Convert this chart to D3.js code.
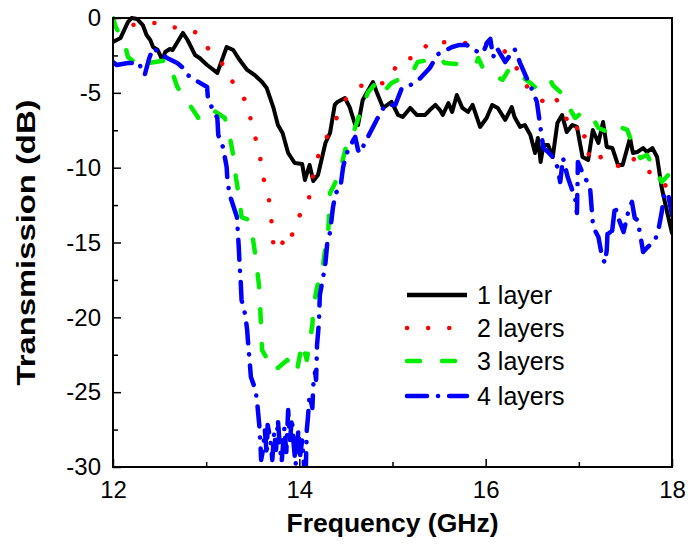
<!DOCTYPE html>
<html>
<head>
<meta charset="utf-8">
<script src="https://cdn.jsdelivr.net/npm/d3@7"></script>
<style>
  body { margin: 0; background: #fff; }
  svg text { font-family: "Liberation Sans", Arial, sans-serif; }
</style>
</head>
<body>
<svg id="chart" width="688" height="550"></svg>
<script>
// measured transmission curves, [frequency GHz, dB]
var layer1 = [[12.00,-1.60],[12.08,-1.34],[12.16,-0.27],[12.20,0],[12.26,-0.07],[12.32,-0.47],[12.36,-1.14],[12.40,-1.47],[12.43,-1.94],[12.48,-2.14],[12.53,-2.81],[12.56,-2.27],[12.61,-2.07],[12.64,-2.14],[12.75,-1.00],[12.80,-1.47],[12.88,-2.47],[12.93,-2.67],[13.01,-3.14],[13.12,-3.67],[13.22,-1.94],[13.29,-2.14],[13.36,-2.81],[13.44,-3.47],[13.52,-3.81],[13.60,-4.28],[13.65,-4.68],[13.72,-5.95],[13.77,-7.15],[13.82,-7.68],[13.88,-9.02],[13.95,-9.69],[14.03,-9.75],[14.06,-10.82],[14.11,-9.82],[14.15,-10.89],[14.20,-10.49],[14.28,-8.35],[14.33,-7.68],[14.38,-5.81],[14.41,-5.61],[14.49,-5.35],[14.54,-5.95],[14.60,-7.15],[14.63,-7.15],[14.68,-5.48],[14.79,-4.28],[14.83,-4.94],[14.90,-6.01],[14.99,-5.61],[15.06,-6.48],[15.11,-6.61],[15.19,-6.01],[15.26,-6.48],[15.35,-6.48],[15.40,-6.15],[15.46,-5.81],[15.51,-6.15],[15.54,-6.48],[15.60,-5.68],[15.64,-6.28],[15.69,-5.14],[15.75,-6.01],[15.81,-6.28],[15.86,-5.81],[15.94,-7.28],[16.01,-6.68],[16.07,-5.81],[16.13,-6.01],[16.21,-6.81],[16.28,-5.95],[16.31,-6.61],[16.37,-7.28],[16.42,-7.15],[16.48,-7.82],[16.53,-9.02],[16.56,-8.02],[16.59,-9.62],[16.62,-8.49],[16.67,-8.49],[16.72,-9.29],[16.77,-7.02],[16.82,-6.48],[16.87,-7.62],[16.93,-7.15],[16.98,-7.28],[17.04,-9.29],[17.10,-9.49],[17.15,-7.48],[17.21,-8.35],[17.26,-6.95],[17.30,-8.62],[17.36,-8.69],[17.42,-9.82],[17.47,-9.82],[17.55,-8.02],[17.58,-9.02],[17.63,-8.95],[17.69,-8.69],[17.73,-8.95],[17.79,-8.69],[17.84,-9.29],[17.89,-11.36],[17.95,-13.03],[18.00,-14.36]];

var layer2 = [[12.00,-0.40],[12.11,-0.60],[12.32,-0.33],[12.50,-0.33],[12.61,-0.60],[12.74,-0.67],[12.91,-1.00],[13.06,-2.41],[13.22,-3.34],[13.32,-4.81],[13.45,-5.68],[13.49,-7.28],[13.57,-8.82],[13.60,-10.36],[13.67,-11.96],[13.70,-13.50],[13.72,-15.03],[13.77,-15.63],[13.85,-14.63],[13.90,-14.97],[13.97,-13.43],[14.09,-12.56],[14.13,-11.02],[14.19,-9.42],[14.29,-8.02],[14.38,-6.95],[14.49,-5.48],[14.64,-4.54],[14.80,-4.48],[14.95,-4.28],[15.08,-2.74],[15.26,-2.67],[15.40,-1.54],[15.64,-1.67],[15.76,-1.67],[15.92,-1.67],[16.13,-1.80],[16.29,-2.74],[16.39,-4.21],[16.51,-5.01],[16.66,-5.81],[16.74,-5.28],[16.83,-6.08],[16.92,-7.62],[16.98,-7.35],[17.02,-8.28],[17.07,-7.82],[17.11,-9.22],[17.19,-8.75],[17.26,-9.62],[17.47,-9.96],[17.57,-9.29],[17.70,-10.22],[17.76,-10.29],[17.89,-11.09],[18.00,-11.36]];

var layer3 = [[12.00,0],[12.03,-0.60],[12.13,-1.80],[12.16,-2.61],[12.31,-3.34],[12.38,-3.01],[12.58,-2.81],[12.61,-3.14],[12.69,-4.61],[12.77,-5.35],[12.86,-6.15],[12.93,-6.81],[13.07,-6.15],[13.20,-6.68],[13.26,-8.15],[13.29,-9.15],[13.32,-10.69],[13.35,-11.83],[13.38,-13.30],[13.46,-13.50],[13.49,-14.30],[13.52,-15.50],[13.55,-16.97],[13.57,-18.04],[13.59,-20.71],[13.60,-22.18],[13.66,-22.85],[13.71,-22.65],[13.77,-23.38],[13.87,-22.85],[13.97,-23.72],[14.03,-21.71],[14.08,-22.85],[14.14,-20.51],[14.15,-19.38],[14.19,-17.97],[14.24,-17.17],[14.28,-15.30],[14.31,-14.30],[14.33,-11.69],[14.40,-10.82],[14.44,-10.16],[14.51,-8.35],[14.59,-7.48],[14.67,-6.01],[14.74,-4.94],[14.87,-4.01],[14.94,-4.68],[14.99,-4.34],[15.21,-3.67],[15.27,-2.94],[15.51,-2.67],[15.56,-3.01],[15.69,-3.07],[15.90,-3.01],[15.92,-2.67],[15.97,-3.34],[16.13,-3.94],[16.18,-4.14],[16.26,-3.34],[16.48,-4.34],[16.53,-4.61],[16.56,-4.28],[16.69,-4.08],[16.72,-4.48],[16.80,-4.94],[16.91,-6.15],[16.96,-6.68],[17.04,-6.28],[17.10,-6.55],[17.15,-6.68],[17.21,-7.35],[17.37,-7.75],[17.44,-7.28],[17.52,-7.48],[17.60,-8.82],[17.66,-9.35],[17.73,-9.15],[17.84,-10.36],[17.89,-10.96],[17.96,-10.49],[18.00,-11.49]];

var layer4 = [[12.00,-2.94],[12.04,-3.14],[12.16,-3.01],[12.20,-3.01],[12.27,-2.94],[12.34,-3.81],[12.39,-2.67],[12.43,-2.00],[12.53,-2.47],[12.58,-2.67],[12.69,-3.01],[12.74,-3.27],[12.80,-3.81],[12.90,-4.21],[13.01,-4.61],[13.02,-5.48],[13.12,-6.68],[13.13,-7.82],[13.18,-8.62],[13.22,-9.96],[13.23,-11.02],[13.26,-11.96],[13.33,-13.30],[13.34,-14.30],[13.35,-15.30],[13.36,-16.64],[13.37,-17.51],[13.38,-18.84],[13.42,-19.84],[13.44,-20.85],[13.45,-21.71],[13.47,-23.18],[13.48,-23.99],[13.53,-24.85],[13.55,-25.86],[13.57,-27.19],[13.58,-28.20],[13.59,-29.53],[13.61,-28.86],[13.63,-27.53],[13.65,-29.20],[13.66,-27.19],[13.69,-28.20],[13.71,-29.53],[13.73,-27.66],[13.75,-28.86],[13.77,-26.86],[13.79,-28.53],[13.81,-29.67],[13.84,-27.39],[13.86,-29.00],[13.88,-26.19],[13.90,-28.20],[13.92,-26.73],[13.94,-28.53],[13.96,-29.87],[13.99,-27.53],[14.01,-29.20],[14.03,-28.20],[14.05,-29.87],[14.07,-30.00],[14.08,-27.53],[14.09,-26.86],[14.11,-25.19],[14.14,-26.06],[14.15,-24.52],[14.17,-23.65],[14.18,-24.19],[14.19,-21.85],[14.21,-20.38],[14.22,-18.51],[14.25,-17.51],[14.28,-16.37],[14.30,-15.03],[14.33,-14.30],[14.36,-12.69],[14.39,-11.69],[14.44,-11.36],[14.47,-9.96],[14.51,-9.02],[14.58,-8.15],[14.60,-7.95],[14.63,-8.82],[14.65,-9.02],[14.73,-8.02],[14.83,-6.81],[14.92,-5.81],[15.03,-5.81],[15.10,-4.68],[15.22,-4.41],[15.30,-4.01],[15.40,-3.34],[15.49,-2.41],[15.64,-1.94],[15.72,-1.80],[15.80,-1.80],[15.83,-2.00],[15.92,-2.27],[15.97,-2.34],[16.02,-1.60],[16.05,-1.40],[16.08,-2.61],[16.12,-2.00],[16.21,-2.94],[16.31,-2.07],[16.37,-3.01],[16.44,-4.01],[16.50,-4.81],[16.55,-5.61],[16.58,-6.95],[16.60,-7.82],[16.62,-8.69],[16.67,-8.95],[16.72,-9.29],[16.77,-9.96],[16.80,-10.96],[16.83,-9.35],[16.88,-10.62],[16.94,-11.69],[16.96,-12.03],[16.98,-13.03],[16.99,-9.62],[17.05,-10.49],[17.12,-11.29],[17.15,-13.70],[17.17,-14.16],[17.21,-14.63],[17.25,-15.97],[17.28,-16.37],[17.30,-15.50],[17.31,-14.03],[17.35,-14.63],[17.39,-12.49],[17.41,-13.16],[17.44,-13.63],[17.48,-14.30],[17.53,-12.96],[17.57,-12.29],[17.60,-13.36],[17.63,-13.50],[17.66,-14.50],[17.69,-15.63],[17.74,-15.30],[17.82,-14.83],[17.86,-13.96],[17.89,-12.96],[17.92,-11.63],[17.96,-11.83],[18.00,-13.16]];

var seriesNames = ["1 layer", "2 layers", "3 layers", "4 layers"];
var seriesColors = ["#000000", "#ff0000", "#00ee00", "#0000ff"];
var seriesDash = [null, "0.1 21", "13 22", "20 11 0.1 11"];
var xMajor = [12, 14, 16, 18];
var xMinor = [13, 15, 17];
var yMajor = [0, -5, -10, -15, -20, -25, -30];
var yMinor = [-2.5, -7.5, -12.5, -17.5, -22.5, -27.5];

var dimensions = {
    width: 688,
    height: 550,
    margin: { top: 18, bottom: 83, right: 16, left: 113 }
}

var svg = d3.select("#chart")

var xScale = d3.scaleLinear()
               .domain([12, 18])
               .range([dimensions.margin.left, dimensions.width - dimensions.margin.right])

var yScale = d3.scaleLinear()
               .domain([-30, 0])
               .range([dimensions.height - dimensions.margin.bottom, dimensions.margin.top])

svg.append("clipPath").attr("id", "plotclip")
   .append("rect")
   .attr("x", xScale(12)).attr("y", yScale(0) - 2)
   .attr("width", xScale(18) - xScale(12)).attr("height", yScale(-30) - yScale(0) + 2)

var line = d3.line()
             .x(function(d){ return xScale(d[0]) })
             .y(function(d){ return yScale(d[1]) })

var allData = [layer1, layer2, layer3, layer4];

svg.append("g")
   .attr("clip-path", "url(#plotclip)")
   .selectAll("path")
   .data(allData)
   .enter()
   .append("path")
   .attr("d", line)
   .attr("fill", "none")
   .attr("stroke", function(d, i){ return seriesColors[i] })
   .attr("stroke-width", function(d, i){ return i == 0 ? 4 : 4.5 })
   .attr("stroke-linecap", "round")
   .attr("stroke-linejoin", "round")
   .attr("stroke-dasharray", function(d, i){ return seriesDash[i] })

// axes
var xAxis = svg.append("g")
               .attr("transform", "translate(0," + yScale(-30) + ")")
               .call(d3.axisBottom(xScale).tickValues(xMajor).tickSizeInner(-8).tickSizeOuter(0).tickPadding(14).tickFormat(d3.format("d")))
var xAxisMinor = svg.append("g")
               .attr("transform", "translate(0," + yScale(-30) + ")")
               .call(d3.axisBottom(xScale).tickValues(xMinor).tickSizeInner(-5).tickSizeOuter(0).tickFormat(""))

var yAxis = svg.append("g")
               .attr("transform", "translate(" + xScale(12) + ",0)")
               .call(d3.axisLeft(yScale).tickValues(yMajor).tickSizeInner(-8).tickSizeOuter(0).tickPadding(12).tickFormat(d3.format("d")))
var yAxisMinor = svg.append("g")
               .attr("transform", "translate(" + xScale(12) + ",0)")
               .call(d3.axisLeft(yScale).tickValues(yMinor).tickSizeInner(-5).tickSizeOuter(0).tickFormat(""))

svg.selectAll(".domain").remove();
svg.selectAll(".tick line").attr("stroke", "#000").attr("stroke-width", 1.5);
xAxis.selectAll("text").style("font-size", "24px").attr("fill", "#000");
yAxis.selectAll("text").style("font-size", "24px").attr("fill", "#000")
     .text(function(d){ return String(d) });

// frame
svg.append("rect")
   .attr("x", xScale(12)).attr("y", yScale(0))
   .attr("width", xScale(18) - xScale(12))
   .attr("height", yScale(-30) - yScale(0))
   .attr("fill", "none")
   .attr("stroke", "#000")
   .attr("stroke-width", 2)

// titles
svg.append("text")
   .attr("x", (xScale(12) + xScale(18)) / 2)
   .attr("y", 532)
   .attr("text-anchor", "middle")
   .attr("textLength", 212)
   .attr("lengthAdjust", "spacingAndGlyphs")
   .style("font-size", "26px")
   .style("font-weight", "bold")
   .text("Frequency (GHz)");

svg.append("text")
   .attr("transform", "rotate(-90)")
   .attr("x", -(yScale(0) + yScale(-30)) / 2)
   .attr("y", 35)
   .attr("text-anchor", "middle")
   .attr("textLength", 286)
   .attr("lengthAdjust", "spacingAndGlyphs")
   .style("font-size", "26px")
   .style("font-weight", "bold")
   .text("Transmission (dB)");

// legend
var legend = svg.append("g")
var rowY = [295, 328, 361, 396];
seriesNames.forEach(function(name, i){
    legend.append("line")
          .attr("x1", 407).attr("x2", 467)
          .attr("y1", rowY[i]).attr("y2", rowY[i])
          .attr("stroke", seriesColors[i])
          .attr("stroke-width", 4.5)
          .attr("stroke-linecap", i == 0 ? "butt" : "round")
          .attr("stroke-dasharray", seriesDash[i]);
    legend.append("text")
          .attr("x", 477).attr("y", rowY[i] + 9)
          .style("font-size", "25px")
          .text(name);
});
</script>
</body>
</html>
